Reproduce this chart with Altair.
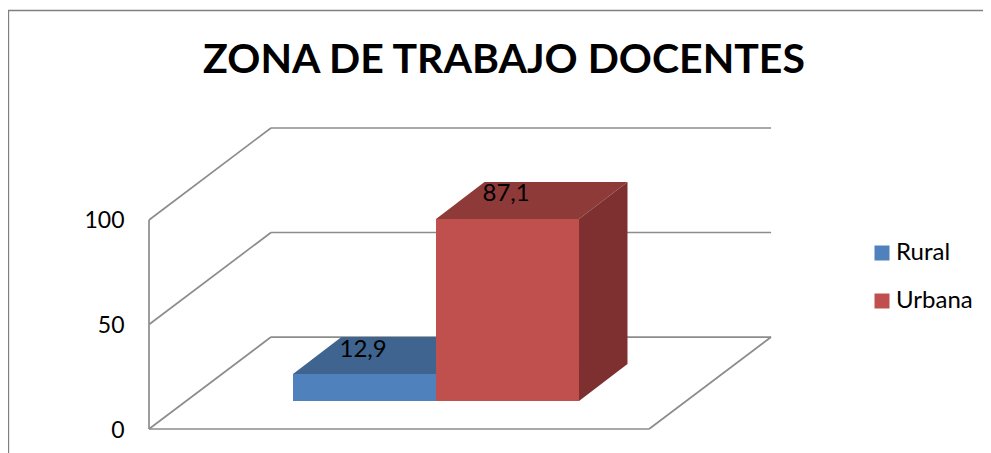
import altair as alt
import pandas as pd

TITLE = "ZONA DE TRABAJO DOCENTES"
SERIES = ["Rural", "Urbana"]
VALUES = [12.9, 87.1]
TICKS = [0, 50, 100]

FRONT = ["#4F81BD", "#C0504D"]
TOP = ["#3F648F", "#8E3A38"]
SIDE = ["#345479", "#7D302F"]
LINE = "#8C8C8C"
FONT = "Lato"

# Scale set-up: x in bar widths (0 = left edge of first bar), y in axis units
W, H = 975, 445
X_DOM = [-1.993, 4.825]
Y_DOM = [-11.48, 201.4]

# 3-D projection constants
BAR_BASE = 13.4
BAR_DX, BAR_DY = 0.339, 17.7
WALL_X0, WALL_X1 = -1.007, 2.49
WALL_DX, WALL_DY = 0.853, 44.0

x_s = alt.Scale(domain=X_DOM, range=[0, W], nice=False, zero=False)
y_s = alt.Scale(domain=Y_DOM, range=[H, 0], nice=False, zero=False)
X = alt.X("x:Q", scale=x_s, axis=None)
Y = alt.Y("y:Q", scale=y_s, axis=alt.Axis(
    values=TICKS, title=None, domain=False, ticks=False, grid=False,
    offset=-141, labelPadding=25, labelFont=FONT, labelFontSize=23,
    labelColor="#000000", format="d", labelOffset=1,
))

# frame
segments = []
for t in TICKS[1:] + [0]:
    segments.append(dict(x=WALL_X0, y=t, x2=WALL_X0 + WALL_DX, y2=t + WALL_DY))
    segments.append(dict(x=WALL_X0 + WALL_DX, y=t + WALL_DY, x2=WALL_X1 + WALL_DX, y2=t + WALL_DY))
segments.append(dict(x=WALL_X0, y=0, x2=WALL_X0, y2=100))
segments.append(dict(x=WALL_X0, y=0, x2=WALL_X1, y2=0))
segments.append(dict(x=WALL_X1, y=0, x2=WALL_X1 + WALL_DX, y2=WALL_DY))

frame = alt.Chart(pd.DataFrame(segments)).mark_rule(color=LINE, strokeWidth=1.7).encode(
    x=X, y=Y, x2="x2:Q", y2="y2:Q"
)

# outer chart border (top and left edges)
border_df = pd.DataFrame([
    dict(x=X_DOM[0], y=Y_DOM[1] - 1.2, x2=X_DOM[1], y2=Y_DOM[1] - 1.2),
    dict(x=X_DOM[0] + 0.003, y=Y_DOM[0], x2=X_DOM[0] + 0.003, y2=Y_DOM[1] - 1.2),
])
border = alt.Chart(border_df).mark_rule(color="#808080", strokeWidth=1.5).encode(
    x=X, y=Y, x2="x2:Q", y2="y2:Q"
)

# bars
front, top, side, labels = [], [], [], []
for i, (s, v) in enumerate(zip(SERIES, VALUES)):
    y0, y1 = BAR_BASE, BAR_BASE + v
    front.append(dict(serie=s, x=i, x2=i + 1, y=y0, y2=y1))
    top.append(dict(face=s, fill=TOP[i], x=i, x2=i + 1, y=y1))
    top.append(dict(face=s, fill=TOP[i], x=i + BAR_DX, x2=i + 1 + BAR_DX, y=y1 + BAR_DY))
    side.append(dict(face=s, fill=SIDE[i], x=i + 1, y=y0, y2=y1))
    side.append(dict(face=s, fill=SIDE[i], x=i + 1 + BAR_DX, y=y0 + BAR_DY, y2=y1 + BAR_DY))
    labels.append(dict(x=i + 0.49, y=y1 + 11.7, t=f"{v:.1f}".replace(".", ",")))

top_l = alt.Chart(pd.DataFrame(top)).mark_area(orient="horizontal").encode(
    x=X, x2="x2:Q", y=Y, detail="face:N", fill=alt.Fill("fill:N", scale=None)
)
side_l = alt.Chart(pd.DataFrame(side)).mark_area(orient="vertical").encode(
    x=X, y=Y, y2="y2:Q", detail="face:N", fill=alt.Fill("fill:N", scale=None)
)
front_l = alt.Chart(pd.DataFrame(front)).mark_rect().encode(
    x=X, x2="x2:Q", y=Y, y2="y2:Q",
    color=alt.Color(
        "serie:N",
        scale=alt.Scale(domain=SERIES, range=FRONT),
        legend=alt.Legend(
            title=None, orient="none", legendX=862, legendY=233,
            symbolType="square", symbolSize=225, symbolStrokeWidth=0,
            labelFont=FONT, labelFontSize=24, labelColor="#000000",
            labelOffset=2, rowPadding=24, padding=0,
        ),
    ),
)
text_l = alt.Chart(pd.DataFrame(labels)).mark_text(
    font=FONT, fontSize=24, color="#000000", baseline="middle", align="center"
).encode(x=X, y=Y, text="t:N")

chart = alt.layer(border, frame, top_l, side_l, front_l, text_l).properties(
    width=W, height=H, padding=0,
    autosize=alt.AutoSizeParams(type="none"),
    title=alt.TitleParams(
        TITLE, font=FONT, fontSize=41, fontWeight="bold", color="#000000",
        anchor="middle", frame="group", dx=8.5, dy=78,
    ),
).configure_view(stroke=None)

chart.save("out.html", embed_options={"renderer": "svg", "actions": False})
